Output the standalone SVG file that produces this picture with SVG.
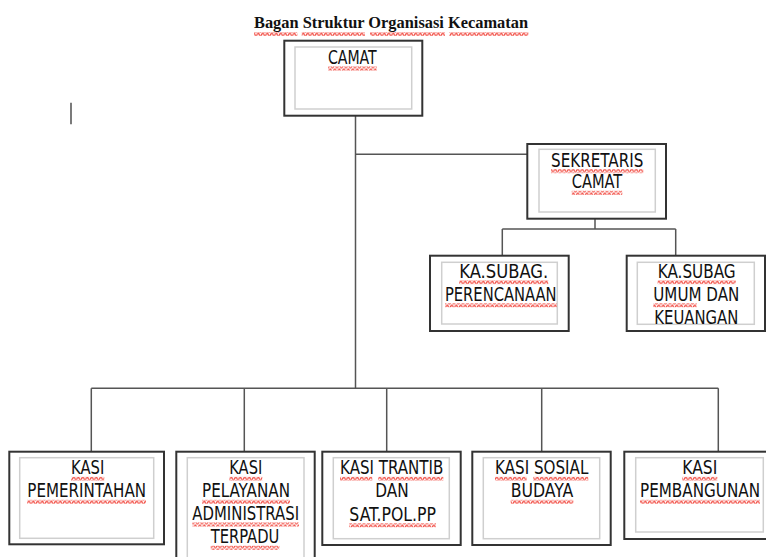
<svg xmlns="http://www.w3.org/2000/svg" width="766" height="557" viewBox="0 0 766 557">
<defs>
<pattern id="sq" patternUnits="userSpaceOnUse" width="4.5" height="4" y="0.5">
<path d="M0,3.2 Q1.125,0.3 2.25,0.8 Q3.375,3.7 4.5,3.2" fill="none" stroke="#f03a30" stroke-width="1.2"/>
</pattern>
<style>
.outer{fill:#fff;stroke:#333;stroke-width:2}
.inner{fill:none;stroke:#cfcfcf;stroke-width:1.5}
.conn{fill:none;stroke:#555;stroke-width:1.5}
.t{font-family:"DejaVu Sans Condensed","DejaVu Sans",sans-serif;font-size:19px;fill:#111;text-anchor:middle}
.title{font-family:"Liberation Serif",serif;font-weight:bold;font-size:16px;fill:#111;text-anchor:middle}
.sq{fill:url(#sq)}
</style>
</defs>
<rect width="766" height="557" fill="#fff"/>

<g id="title">
<text class="title" x="391" y="28.3" textLength="274" lengthAdjust="spacingAndGlyphs">Bagan Struktur Organisasi Kecamatan</text>
<rect class="sq" x="254" y="32" width="43.3" height="4"/>
<rect class="sq" x="301.7" y="32" width="63.3" height="4"/>
<rect class="sq" x="370" y="32" width="75" height="4"/>
<rect class="sq" x="449.3" y="32" width="79" height="4"/>
</g>

<line x1="71" y1="102.7" x2="71" y2="124.3" stroke="#333" stroke-width="1.3"/>

<g id="connectors">
<path class="conn" d="M355.5 115.7 V388.3"/>
<path class="conn" d="M355.5 154.3 H527.3"/>
<path class="conn" d="M595 218.7 V229 M502.3 229 H675.7 M502.3 229 V255.7 M675.7 229 V255.7"/>
<path class="conn" d="M91.3 388.3 H718.3 M91.3 388.3 V451.7 M244.3 388.3 V451.7 M386.7 388.3 V451.7 M541.7 388.3 V451.7 M718.3 388.3 V451.7"/>
</g>

<g id="camat">
<rect class="outer" x="284.3" y="40.7" width="138" height="75"/>
<rect class="inner" x="295" y="47" width="116.7" height="62"/>
<text class="t" x="352.3" y="64" textLength="48.7" lengthAdjust="spacingAndGlyphs">CAMAT</text>
<rect class="sq" x="328" y="66.5" width="48.7" height="4"/>
</g>

<g id="sekretaris">
<rect class="outer" x="527.3" y="144" width="138.7" height="74.7"/>
<rect class="inner" x="539" y="149.3" width="116.3" height="62.7"/>
<text class="t" x="597.2" y="166.7" textLength="92.3" lengthAdjust="spacingAndGlyphs">SEKRETARIS</text>
<text class="t" x="597" y="188.3" textLength="50.6" lengthAdjust="spacingAndGlyphs">CAMAT</text>
<rect class="sq" x="551" y="169.2" width="92.3" height="4"/>
<rect class="sq" x="571.7" y="190.8" width="50.6" height="4"/>
</g>

<g id="perencanaan">
<rect class="outer" x="430" y="255.7" width="138.7" height="75.3"/>
<rect class="inner" x="441.7" y="262.3" width="115.6" height="61.7"/>
<text class="t" x="503.8" y="277.7" textLength="89" lengthAdjust="spacingAndGlyphs">KA.SUBAG.</text>
<text class="t" x="500.8" y="300.7" textLength="111.7" lengthAdjust="spacingAndGlyphs">PERENCANAAN</text>
<rect class="sq" x="459.3" y="280.2" width="89" height="4"/>
<rect class="sq" x="445" y="303.2" width="111.7" height="4"/>
</g>

<g id="umum">
<rect class="outer" x="626.7" y="255.7" width="138.3" height="75.3"/>
<rect class="inner" x="637.3" y="262.3" width="117" height="62"/>
<text class="t" x="696.7" y="277.7" textLength="78" lengthAdjust="spacingAndGlyphs">KA.SUBAG</text>
<text class="t" x="696.3" y="300.7" textLength="86" lengthAdjust="spacingAndGlyphs">UMUM DAN</text>
<text class="t" x="696.3" y="324" textLength="84" lengthAdjust="spacingAndGlyphs">KEUANGAN</text>
<rect class="sq" x="657.7" y="280.2" width="78" height="4"/>
<rect class="sq" x="653.3" y="303.2" width="43.4" height="4"/>
</g>

<g id="pemerintahan">
<rect class="outer" x="9.3" y="451.7" width="154.7" height="92.6"/>
<rect class="inner" x="19.7" y="457.7" width="134" height="80.6"/>
<text class="t" x="87.7" y="474.3" textLength="33.3" lengthAdjust="spacingAndGlyphs">KASI</text>
<text class="t" x="86.7" y="497.3" textLength="118.7" lengthAdjust="spacingAndGlyphs">PEMERINTAHAN</text>
<rect class="sq" x="71" y="476.8" width="33.3" height="4"/>
<rect class="sq" x="27.3" y="499.8" width="118.7" height="4"/>
</g>

<g id="pelayanan">
<rect class="outer" x="176.3" y="451.7" width="138.4" height="120"/>
<rect class="inner" x="187.3" y="457.7" width="116.7" height="110"/>
<text class="t" x="245.8" y="474.3" textLength="33" lengthAdjust="spacingAndGlyphs">KASI</text>
<text class="t" x="246" y="497.3" textLength="88" lengthAdjust="spacingAndGlyphs">PELAYANAN</text>
<text class="t" x="245.7" y="520" textLength="106.7" lengthAdjust="spacingAndGlyphs">ADMINISTRASI</text>
<text class="t" x="245" y="543.3" textLength="68.6" lengthAdjust="spacingAndGlyphs">TERPADU</text>
<rect class="sq" x="229.3" y="476.8" width="33" height="4"/>
<rect class="sq" x="202" y="499.8" width="88" height="4"/>
<rect class="sq" x="192.3" y="522.5" width="106.7" height="4"/>
<rect class="sq" x="210.7" y="545.8" width="68.6" height="4"/>
</g>

<g id="trantib">
<rect class="outer" x="322.3" y="451.7" width="138.4" height="93.3"/>
<rect class="inner" x="333.3" y="457.7" width="116" height="81"/>
<text class="t" x="391.7" y="474.3" textLength="103.3" lengthAdjust="spacingAndGlyphs">KASI TRANTIB</text>
<text class="t" x="392" y="497.3" textLength="33.4" lengthAdjust="spacingAndGlyphs">DAN</text>
<text class="t" x="392.7" y="520.7" textLength="86.7" lengthAdjust="spacingAndGlyphs">SAT.POL.PP</text>
<rect class="sq" x="340" y="476.8" width="32.3" height="4"/>
<rect class="sq" x="378.3" y="476.8" width="65" height="4"/>
<rect class="sq" x="349.3" y="523.2" width="86.7" height="4"/>
</g>

<g id="sosial">
<rect class="outer" x="472.3" y="451.7" width="138.4" height="93.3"/>
<rect class="inner" x="483.3" y="457.7" width="116.4" height="81"/>
<text class="t" x="541.7" y="474.3" textLength="93.3" lengthAdjust="spacingAndGlyphs">KASI SOSIAL</text>
<text class="t" x="542" y="497.3" textLength="62.6" lengthAdjust="spacingAndGlyphs">BUDAYA</text>
<rect class="sq" x="495" y="476.8" width="31.7" height="4"/>
<rect class="sq" x="533.3" y="476.8" width="55" height="4"/>
<rect class="sq" x="510.7" y="499.8" width="62.6" height="4"/>
</g>

<g id="pembangunan">
<rect class="outer" x="624.3" y="451.7" width="155" height="87.3"/>
<rect class="inner" x="635.7" y="457.7" width="127.6" height="74.3"/>
<text class="t" x="699.8" y="474.3" textLength="35" lengthAdjust="spacingAndGlyphs">KASI</text>
<text class="t" x="700" y="497.3" textLength="120" lengthAdjust="spacingAndGlyphs">PEMBANGUNAN</text>
<rect class="sq" x="682.3" y="476.8" width="35" height="4"/>
<rect class="sq" x="640" y="499.8" width="120" height="4"/>
</g>
</svg>
